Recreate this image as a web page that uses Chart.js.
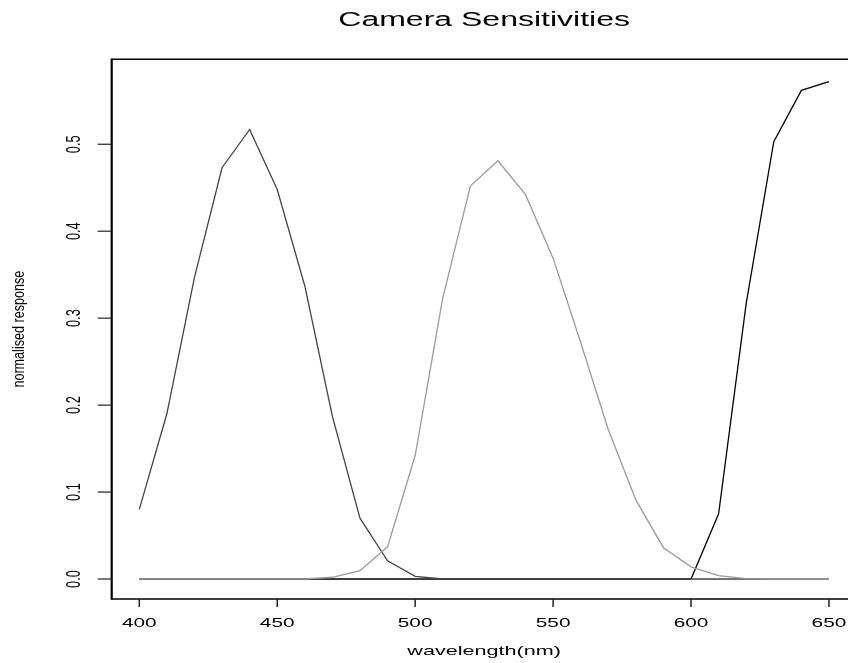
<!DOCTYPE html>
<html>
<head>
<meta charset="utf-8">
<title>Camera Sensitivities</title>
<script src="https://cdn.jsdelivr.net/npm/chart.js@4.4.1/dist/chart.umd.min.js"></script>
<style>
  html, body { margin: 0; padding: 0; background: #fff; overflow: hidden; }
  #wrap { width: 848px; height: 663px; }
</style>
</head>
<body>
<div id="wrap"><canvas id="chart" width="848" height="663"></canvas></div>
<script>
// ========= dados =========
const wavelengths = [400, 410, 420, 430, 440, 450, 460, 470, 480, 490, 500, 510, 520,
                     530, 540, 550, 560, 570, 580, 590, 600, 610, 620, 630, 640, 650];

const blueResp  = [0.080, 0.190, 0.347, 0.473, 0.517, 0.448, 0.337, 0.187, 0.070, 0.021, 0.003, 0, 0,
                   0, 0, 0, 0, 0, 0, 0, 0, 0, 0, 0, 0, 0];
const greenResp = [0, 0, 0, 0, 0, 0, 0, 0.002, 0.0095, 0.037, 0.142, 0.323, 0.452,
                   0.481, 0.442, 0.369, 0.272, 0.172, 0.091, 0.036, 0.014, 0.004, 0.0005, 0, 0, 0];
const redResp   = [0, 0, 0, 0, 0, 0, 0, 0, 0, 0, 0, 0, 0,
                   0, 0, 0, 0, 0, 0, 0, 0, 0.075, 0.317, 0.503, 0.562, 0.572];

const xTicks = [400, 450, 500, 550, 600, 650];
const yTicks = [0, 0.1, 0.2, 0.3, 0.4, 0.5];
const yTickLabels = ['0.0', '0.1', '0.2', '0.3', '0.4', '0.5'];

const titleText = 'Camera Sensitivities';
const xTitle = 'wavelength(nm)';
const yTitle = 'normalised response';

// ========= estilo (texto horizontal mais largo, como no original) =========
const FONT = '"Liberation Sans", Arial, Helvetica, sans-serif';
const SX = 1.6;

function toPoints(ys) {
  return wavelengths.map((w, i) => ({ x: w, y: ys[i] }));
}

function stretchedText(ctx, txt, x, y, size, rotated, sx = SX) {
  ctx.save();
  ctx.font = `${size}px ${FONT}`;
  ctx.fillStyle = '#000';
  ctx.textAlign = 'center';
  ctx.textBaseline = 'alphabetic';
  ctx.translate(x, y);
  ctx.scale(sx, 1);
  if (rotated) ctx.rotate(-Math.PI / 2);
  ctx.fillText(txt, 0, 0);
  ctx.restore();
}

// eixos no estilo R base graphics
const rAxes = {
  id: 'rAxes',
  afterDraw(chart) {
    const { ctx, chartArea: a, scales: { x, y } } = chart;
    ctx.save();
    ctx.strokeStyle = '#000';

    // caixa (a borda direita fica fora da imagem)
    ctx.lineWidth = 1.5;
    ctx.beginPath();
    ctx.moveTo(chart.width, a.top); ctx.lineTo(a.left, a.top);
    ctx.moveTo(a.left, a.bottom); ctx.lineTo(chart.width, a.bottom);
    ctx.stroke();
    ctx.lineWidth = 2.2;
    ctx.beginPath();
    ctx.moveTo(a.left, a.top - 0.75); ctx.lineTo(a.left, a.bottom + 0.75);
    ctx.stroke();

    // ticks x
    ctx.lineWidth = 1.5;
    ctx.strokeStyle = '#222';
    xTicks.forEach(t => {
      const px = x.getPixelForValue(t);
      ctx.beginPath();
      ctx.moveTo(px, a.bottom); ctx.lineTo(px, a.bottom + 8);
      ctx.stroke();
      stretchedText(ctx, String(t), px, a.bottom + 28, 13, false);
    });

    // ticks y
    ctx.lineWidth = 1.2;
    yTicks.forEach((t, i) => {
      const py = y.getPixelForValue(t);
      ctx.beginPath();
      ctx.moveTo(a.left - 14, py); ctx.lineTo(a.left, py);
      ctx.stroke();
      stretchedText(ctx, yTickLabels[i], a.left - 32, py, 12.8, true);
    });

    // títulos
    const cx = (a.left + x.getPixelForValue(660)) / 2;
    stretchedText(ctx, titleText, cx, 26, 20, false);
    stretchedText(ctx, xTitle, cx, 655, 13.5, false);
    stretchedText(ctx, yTitle, 24, (a.top + a.bottom) / 2, 12.6, true, 1.3);
    ctx.restore();
  }
};

new Chart(document.getElementById('chart'), {
  type: 'line',
  data: {
    datasets: [
      { label: 'green', data: toPoints(greenResp), borderColor: '#9a9a9a' },
      { label: 'blue',  data: toPoints(blueResp),  borderColor: '#444444' },
      { label: 'red',   data: toPoints(redResp),   borderColor: '#000000' }
    ]
  },
  options: {
    responsive: false,
    animation: false,
    layout: { padding: { left: 111.7, top: 59.3, right: 0, bottom: 64 } },
    elements: {
      line: { borderWidth: 1.3, tension: 0 },
      point: { radius: 0 }
    },
    plugins: { legend: { display: false }, tooltip: { enabled: false } },
    scales: {
      x: { type: 'linear', min: 390, max: 656.9, display: false },
      y: { type: 'linear', min: -0.023, max: 0.5977, display: false }
    }
  },
  plugins: [rAxes]
});
</script>
</body>
</html>
